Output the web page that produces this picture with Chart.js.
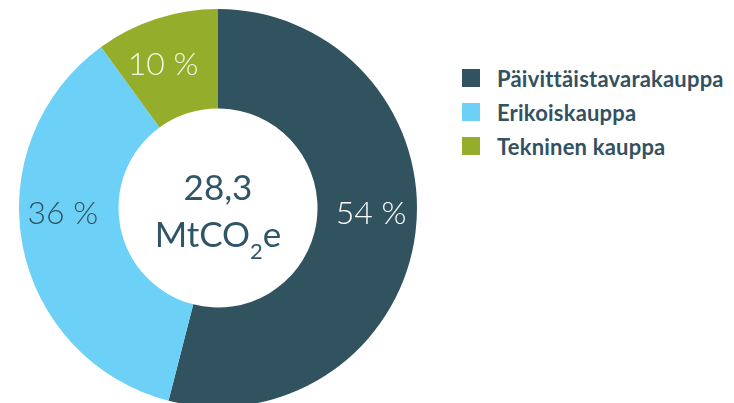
<!DOCTYPE html>
<html>
<head>
<meta charset="utf-8">
<script src="https://cdn.jsdelivr.net/npm/chart.js@4"></script>
<style>
  html, body { margin: 0; padding: 0; background: #fff; }
  body { width: 734px; height: 403px; position: relative; overflow: hidden; font-family: Lato, "Open Sans", sans-serif; }
  #wrap { position: absolute; left: 19px; top: 9px; width: 398px; height: 398px; }
  #legend { position: absolute; left: 462px; top: 61px; }
  .item { height: 34px; display: flex; align-items: center; color: #34515f; font-weight: 700; font-size: 22px; letter-spacing: 0.2px; }
  .sw { width: 18px; height: 18px; margin-right: 17px; }
</style>
</head>
<body>
<div id="wrap"><canvas id="donut"></canvas></div>
<div id="legend"></div>
<script>
// Data
const categories = ['Päivittäistavarakauppa', 'Erikoiskauppa', 'Tekninen kauppa'];
const shares = [54, 36, 10];
const colors = ['#31535f', '#6dd0f6', '#94ae2b'];
const labelColors = ['#ffffff', '#31535f', '#f4f7e6'];
const totalLabel = ['28,3', 'MtCO', '2', 'e'];

// label placement: angle (deg, 0 = right, clockwise) and radius fraction of outer radius
const labelAngles = [2, 178, -111];
const labelRadius = [0.77, 0.78, 0.77];

// Legend
const legend = document.getElementById('legend');
categories.forEach((c, i) => {
    const d = document.createElement('div');
    d.className = 'item';
    d.innerHTML = '<span class="sw" style="background:' + colors[i] + '"></span>' + c;
    legend.appendChild(d);
});

const labelPlugin = {
    id: 'labels',
    afterDatasetsDraw(chart) {
        const ctx = chart.ctx;
        const arc = chart.getDatasetMeta(0).data[0];
        const cx = arc.x, cy = arc.y, r = arc.outerRadius;
        ctx.save();
        ctx.textAlign = 'center';
        ctx.textBaseline = 'middle';
        ctx.font = '300 32px Lato, "Open Sans", sans-serif';
        shares.forEach((v, i) => {
            const a = labelAngles[i] * Math.PI / 180;
            ctx.fillStyle = labelColors[i];
            ctx.fillText(v + ' %', cx + Math.cos(a) * r * labelRadius[i], cy + Math.sin(a) * r * labelRadius[i]);
        });

        // center total
        ctx.fillStyle = '#2f5567';
        ctx.font = '400 35px Lato, "Open Sans", sans-serif';
        ctx.fillText(totalLabel[0], cx, cy - 19);
        const big = '400 35px Lato, "Open Sans", sans-serif';
        const small = '400 22px Lato, "Open Sans", sans-serif';
        ctx.font = big;
        const w1 = ctx.measureText(totalLabel[1]).width;
        const w3 = ctx.measureText(totalLabel[3]).width;
        ctx.font = small;
        const w2 = ctx.measureText(totalLabel[2]).width;
        let x = cx - (w1 + w2 + w3) / 2;
        ctx.textAlign = 'left';
        ctx.textBaseline = 'alphabetic';
        const base = cy + 39;
        ctx.font = big;
        ctx.fillText(totalLabel[1], x, base);
        x += w1;
        ctx.font = small;
        ctx.fillText(totalLabel[2], x, base + 12);
        x += w2;
        ctx.font = big;
        ctx.fillText(totalLabel[3], x, base);
        ctx.restore();
    }
};

new Chart(document.getElementById('donut'), {
    type: 'doughnut',
    data: {
        labels: categories,
        datasets: [{
            data: shares,
            backgroundColor: colors,
            borderWidth: 0
        }]
    },
    options: {
        responsive: true,
        maintainAspectRatio: false,
        animation: false,
        cutout: '50%',
        layout: { padding: 0 },
        plugins: {
            legend: { display: false },
            tooltip: { enabled: false }
        }
    },
    plugins: [labelPlugin]
});
</script>
</body>
</html>
